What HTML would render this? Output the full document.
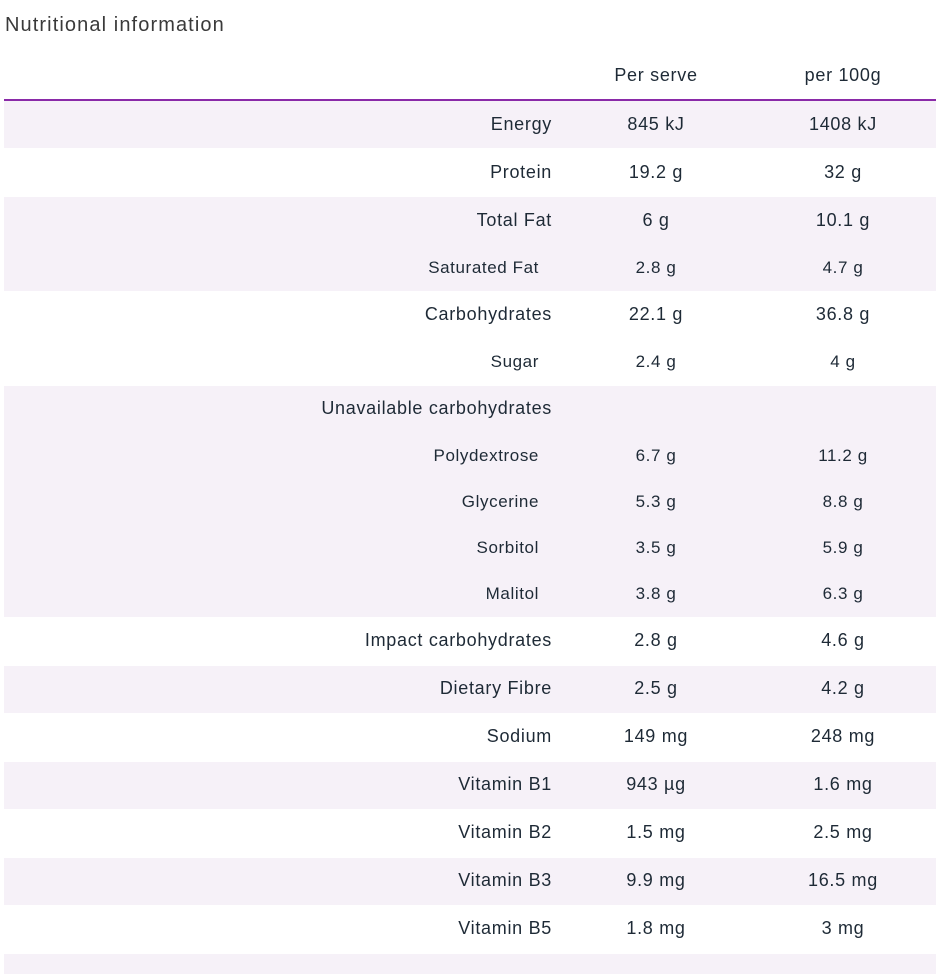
<!DOCTYPE html>
<html><head><meta charset="utf-8"><style>
body{margin:0;width:944px;height:964px;background:#fff;font-family:"Liberation Sans",sans-serif;color:#1e2a36;position:relative;overflow:hidden}
.t{position:absolute;left:5px;top:14px;font-size:20px;letter-spacing:1.1px;color:#3a3a3a}
.bg{position:absolute;left:4px;width:932px;background:#f6f1f8}
.c{position:absolute;white-space:nowrap;font-size:18px;line-height:20px;letter-spacing:0.7px}
.s{font-size:17px;letter-spacing:0.6px}
.l{text-align:right;width:500px}
.m{text-align:center;width:200px}
</style></head><body>
<div class="t">Nutritional information</div>
<div class="c m" style="left:556px;top:65px">Per serve</div>
<div class="c m" style="left:743px;top:65px">per 100g</div>
<div style="position:absolute;left:4px;top:99px;width:932px;height:2px;background:#8a2aa8"></div>
<div class="bg" style="top:101px;height:47px"></div>
<div class="bg" style="top:197px;height:94px"></div>
<div class="bg" style="top:386px;height:231px"></div>
<div class="bg" style="top:666px;height:47px"></div>
<div class="bg" style="top:762px;height:47px"></div>
<div class="bg" style="top:858px;height:47px"></div>
<div class="bg" style="top:954px;height:20px"></div>
<div id="rows"></div>
<script>
const names=["Energy","Protein","Total Fat","Saturated Fat","Carbohydrates","Sugar","Unavailable carbohydrates","Polydextrose","Glycerine","Sorbitol","Malitol","Impact carbohydrates","Dietary Fibre","Sodium","Vitamin B1","Vitamin B2","Vitamin B3","Vitamin B5"];
const perServe=["845 kJ","19.2 g","6 g","2.8 g","22.1 g","2.4 g","","6.7 g","5.3 g","3.5 g","3.8 g","2.8 g","2.5 g","149 mg","943 µg","1.5 mg","9.9 mg","1.8 mg"];
const per100=["1408 kJ","32 g","10.1 g","4.7 g","36.8 g","4 g","","11.2 g","8.8 g","5.9 g","6.3 g","4.6 g","4.2 g","248 mg","1.6 mg","2.5 mg","16.5 mg","3 mg"];
const centers=[124,172,220,268,314,362,408,456,502,548,594,640,688,736,784,832,880,928];
const sub=[0,0,0,1,0,1,0,1,1,1,1,0,0,0,0,0,0,0];
const r=document.getElementById('rows');
names.forEach((n,i)=>{
  const s=sub[i]?' s':'';
  const a=document.createElement('div');a.className='c l'+s;
  a.style.left=(sub[i]?39:52)+'px';a.style.top=(centers[i]-10)+'px';a.textContent=n;
  
  
  r.appendChild(a);
  const b=document.createElement('div');b.className='c m'+s;
  b.style.left='556px';b.style.top=(centers[i]-10)+'px';b.textContent=perServe[i];
  
  
  r.appendChild(b);
  const c=document.createElement('div');c.className='c m'+s;
  c.style.left='743px';c.style.top=(centers[i]-10)+'px';c.textContent=per100[i];
  
  
  r.appendChild(c);
});
</script>
</body></html>
